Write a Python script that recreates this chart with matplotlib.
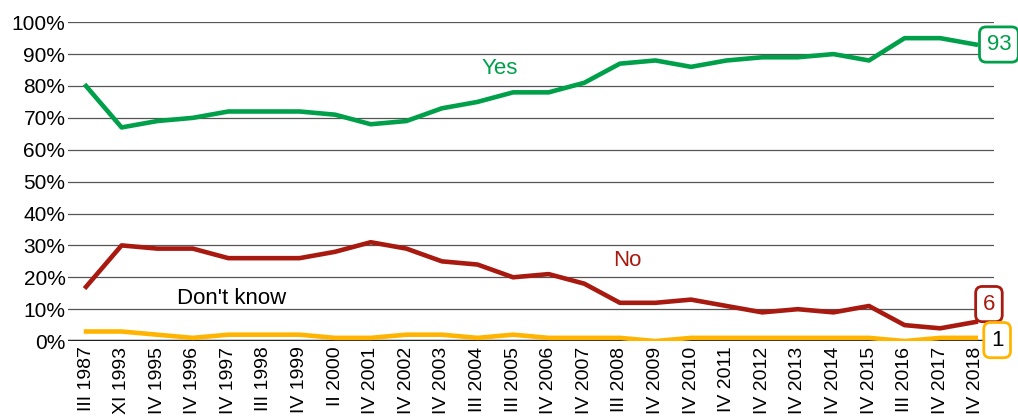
import matplotlib.pyplot as plt
import numpy as np

plt.rcParams['font.family'] = ['Liberation Sans', 'DejaVu Sans']

periodos = ['III 1987', 'XI 1993', 'IV 1995', 'IV 1996', 'IV 1997', 'III 1998', 'IV 1999',
            'II 2000', 'IV 2001', 'IV 2002', 'IV 2003', 'III 2004', 'III 2005', 'IV 2006',
            'IV 2007', 'III 2008', 'IV 2009', 'IV 2010', 'IV 2011', 'IV 2012', 'IV 2013',
            'IV 2014', 'IV 2015', 'III 2016', 'IV 2017', 'IV 2018']
sim = [80, 67, 69, 70, 72, 72, 72, 71, 68, 69, 73, 75, 78, 78, 81, 87, 88, 86, 88, 89,
       89, 90, 88, 95, 95, 93]
nao = [17, 30, 29, 29, 26, 26, 26, 28, 31, 29, 25, 24, 20, 21, 18, 12, 12, 13, 11, 9,
       10, 9, 11, 5, 4, 6]
nao_sabe = [3, 3, 2, 1, 2, 2, 2, 1, 1, 2, 2, 1, 2, 1, 1, 1, 0, 1, 1, 1, 1, 1, 1, 0, 1, 1]

verde = '#00A04B'
vermelho = '#A8190F'
amarelo = '#FFB400'

fig = plt.figure(figsize=(10.18, 4.19), dpi=100)
ax = fig.add_axes([0.067, 0.186, 0.909, 0.761])
x = np.arange(len(periodos))

ax.plot(x, sim, color=verde, lw=3.3, solid_joinstyle='round', zorder=3)
ax.plot(x, nao, color=vermelho, lw=3.3, solid_joinstyle='round', zorder=3)
ax.plot(x, nao_sabe, color=amarelo, lw=3.3, solid_joinstyle='round', zorder=4)

ax.set_xlim(-0.5, len(periodos) - 0.5)
ax.set_ylim(0, 100)
ax.set_yticks(range(0, 101, 10))
ax.set_yticklabels([str(v) + '%' for v in range(0, 101, 10)], fontsize=15)
ax.set_xticks(x)
ax.set_xticklabels(periodos, rotation=90, fontsize=14)
ax.tick_params(axis='x', length=0, pad=4)
ax.tick_params(axis='y', length=0, pad=2)
ax.grid(axis='y', color='#555555', lw=0.9)
ax.axhline(0, color='#222222', lw=2.5, zorder=2)
for s in ax.spines.values():
    s.set_visible(False)
ax.set_axisbelow(True)

ax.text(11.63, 85.6, 'Yes', color=verde, fontsize=16, ha='center', va='center')
ax.text(15.2, 25.4, 'No', color=vermelho, fontsize=16, ha='center', va='center')
ax.text(4.1, 13.5, "Don't know", color='black', fontsize=16, ha='center', va='center')

ult = len(periodos) - 1
caixas = [(sim[ult], sim[ult], verde, ult + 0.65),
          (nao[ult], nao[ult] + 5.6, vermelho, ult + 0.37),
          (nao_sabe[ult], nao_sabe[ult] - 0.7, amarelo, ult + 0.6)]
for val, yp, cor, xp in caixas:
    ax.text(xp, yp, str(val), color='black' if cor == amarelo else cor, fontsize=16,
            ha='center', va='center', clip_on=False, zorder=5,
            bbox=dict(boxstyle='round,pad=0.32,rounding_size=0.3', fc='white', ec=cor, lw=2))

plt.savefig('out.png', dpi=100)
